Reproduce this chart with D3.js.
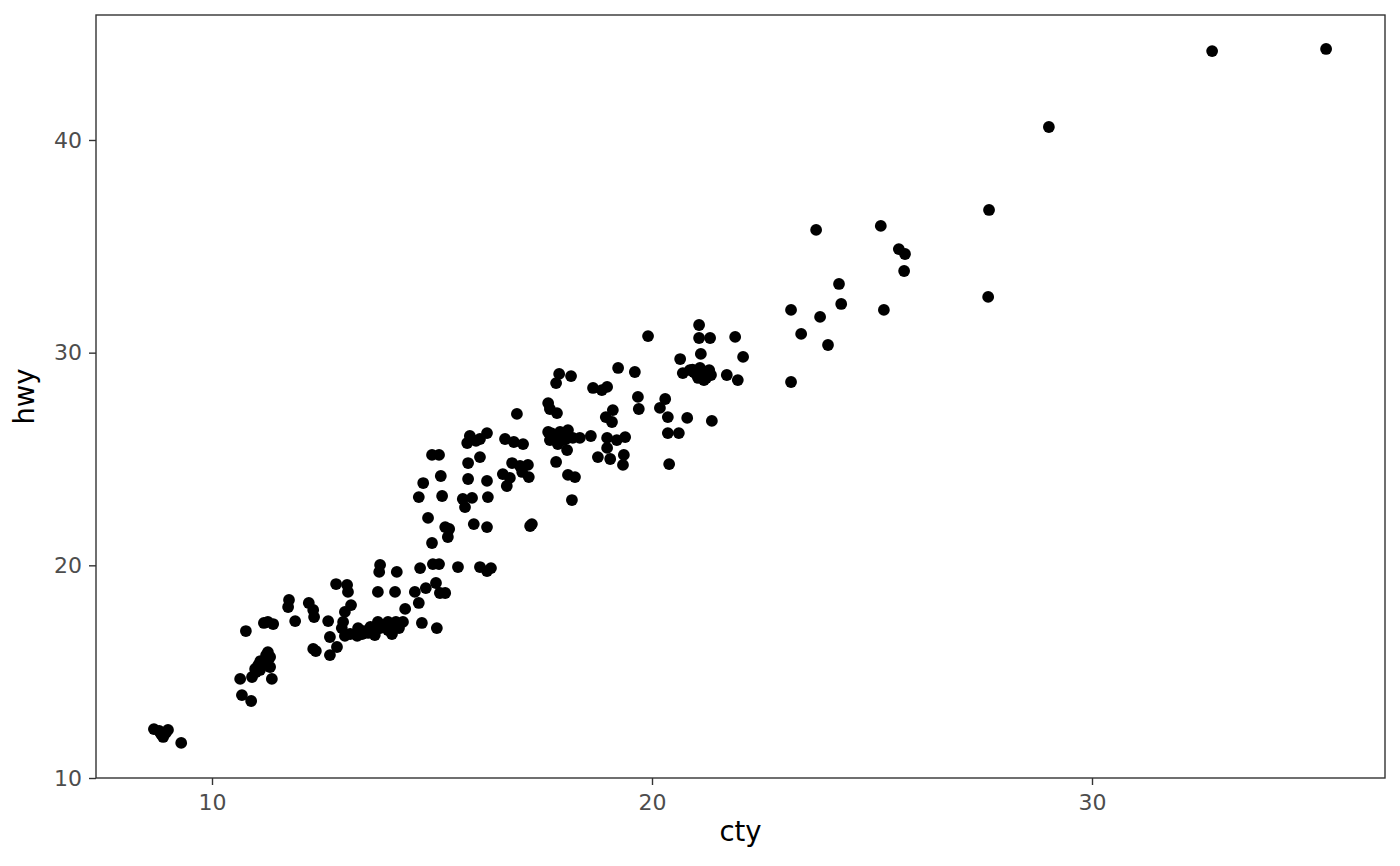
<!DOCTYPE html>
<html>
<head>
<meta charset="utf-8">
<script src="https://cdn.jsdelivr.net/npm/d3@7"></script>
<style>
  html, body { margin: 0; padding: 0; background: #ffffff; }
  svg { display: block; }
</style>
</head>
<body>
<svg id="chart" width="1400" height="866"></svg>
<script>
// ---- data (jittered cty vs hwy) ----
const cty = [
  8.68, 8.80, 8.89, 8.95, 9.00, 9.30, 10.64, 10.68, 10.89, 10.77,
  11.18, 11.27, 11.39, 10.91, 10.98, 11.05, 11.14, 11.27, 11.32, 11.32,
  11.36, 11.00, 11.75, 11.73, 11.89, 11.23, 11.09, 12.20, 12.30, 12.32,
  12.64, 12.82, 13.07, 13.09, 13.16, 13.02, 12.68, 12.84, 12.30, 12.36,
  12.68, 12.98, 12.95, 13.32, 13.14, 13.02, 13.30, 13.41, 13.55, 13.64,
  13.77, 13.82, 13.91, 14.00, 14.09, 14.00, 14.18, 14.34, 14.25, 13.82,
  13.80, 14.20, 13.77, 14.16, 14.61, 14.86, 15.09, 15.18, 15.30, 14.39,
  14.70, 14.77, 15.11, 15.02, 15.16, 14.73, 15.59, 13.70, 14.16, 14.11,
  15.00, 15.16, 15.20, 14.80, 14.70, 15.23, 14.91, 15.30, 15.39, 15.36,
  15.00, 15.82, 16.09, 15.82, 16.25, 15.70, 15.91, 15.75, 16.27, 15.95,
  16.25, 16.09, 16.25, 16.34, 15.86, 15.80, 16.09, 16.25, 16.66, 16.86,
  17.07, 16.93, 16.61, 16.70, 16.77, 16.82, 17.00, 17.18, 17.05, 17.20,
  17.27, 17.23, 17.89, 17.82, 18.16, 17.64, 17.68, 17.84, 17.64, 17.68,
  17.91, 18.09, 17.98, 18.20, 18.36, 18.07, 18.61, 17.82, 18.09, 18.25,
  18.18, 17.80, 17.75, 18.02, 17.86, 18.66, 18.86, 18.98, 19.23, 19.61,
  19.11, 18.95, 19.09, 18.98, 18.98, 19.20, 19.39, 19.36, 19.34, 18.77,
  19.05, 19.68, 19.70, 19.91, 21.07, 21.07, 21.32, 21.89, 22.07, 20.64,
  21.11, 20.70, 20.86, 20.95, 21.02, 21.09, 21.16, 21.23, 21.30, 21.34,
  21.18, 21.05, 21.70, 21.95, 20.18, 20.30, 20.36, 20.80, 21.36, 20.36,
  20.61, 20.39, 23.16, 23.16, 23.39, 23.73, 23.82, 24.00, 24.25, 24.30,
  25.20, 25.27, 25.61, 25.75, 25.73, 27.64, 27.66, 29.02, 32.73, 35.32,
  // points partly hidden inside the dense clusters
  8.85, 11.10, 11.20, 13.45, 13.60, 14.05, 17.95, 18.05, 17.72, 21.00,
  21.14, 21.25, 20.92, 16.00
];
const hwy = [
  12.30, 12.21, 11.93, 12.12, 12.26, 11.65, 14.66, 13.90, 13.62, 16.91,
  17.29, 17.34, 17.24, 14.75, 15.13, 15.31, 15.27, 15.92, 15.69, 15.22,
  14.66, 14.98, 18.37, 18.04, 17.38, 15.78, 15.08, 18.23, 17.90, 17.57,
  17.38, 19.12, 19.08, 18.75, 18.13, 17.81, 16.63, 16.16, 16.07, 15.97,
  15.78, 17.34, 17.05, 17.05, 16.77, 16.68, 16.68, 16.77, 16.82, 16.96,
  17.34, 17.05, 17.19, 16.96, 16.77, 17.34, 17.34, 17.34, 17.05, 20.02,
  19.69, 19.69, 18.75, 18.75, 18.75, 18.93, 19.17, 18.70, 18.70, 17.95,
  18.23, 17.29, 17.05, 20.06, 20.06, 19.87, 19.92, 16.72, 17.05, 17.19,
  25.19, 25.19, 24.20, 23.87, 23.21, 23.26, 22.23, 21.80, 21.71, 21.33,
  21.05, 24.81, 25.09, 24.06, 23.97, 23.12, 23.17, 22.74, 23.21, 21.94,
  21.80, 19.92, 19.73, 19.87, 26.08, 25.75, 25.94, 26.22, 25.94, 25.80,
  25.70, 27.12, 24.29, 23.73, 24.11, 24.81, 24.67, 24.72, 24.39, 24.15,
  21.94, 21.85, 29.00, 28.57, 28.90, 27.63, 27.35, 27.16, 26.27, 25.89,
  26.27, 26.36, 25.89, 25.99, 25.99, 25.42, 26.08, 24.86, 24.25, 24.15,
  23.07, 25.89, 26.08, 26.08, 25.70, 28.34, 28.24, 28.39, 29.28, 29.09,
  27.30, 26.97, 26.74, 25.99, 25.52, 25.89, 26.03, 25.19, 24.72, 25.09,
  25.00, 27.92, 27.35, 30.78, 31.30, 30.69, 30.69, 30.74, 29.80, 29.70,
  29.94, 29.04, 29.18, 29.09, 28.95, 29.28, 29.04, 28.81, 29.18, 28.95,
  28.71, 28.81, 28.95, 28.71, 27.40, 27.82, 26.97, 26.93, 26.79, 26.22,
  26.22, 24.76, 32.01, 28.62, 30.88, 35.77, 31.68, 30.36, 33.23, 32.29,
  35.96, 32.01, 34.87, 34.64, 33.84, 32.62, 36.71, 40.61, 44.18, 44.28,
  12.05, 15.50, 15.40, 16.90, 17.10, 17.15, 26.15, 25.95, 26.20, 29.10,
  28.90, 29.00, 29.20, 25.85
];
const xTicks = [10, 20, 30];
const yTicks = [10, 20, 30, 40];
const xLabel = "cty";
const yLabel = "hwy";

// ---- layout ----
const W = 1400, H = 866;
const panel = { left: 96, right: 1385, top: 15, bottom: 778 };

const svg = d3.select("#chart");

const x = d3.scaleLinear()
  .domain([7.3636, 36.659])
  .range([panel.left, panel.right]);
const y = d3.scaleLinear()
  .domain([10.0, 45.877])
  .range([panel.bottom, panel.top]);

const font = "'DejaVu Sans', 'Liberation Sans', sans-serif";

// panel background
svg.append("rect")
  .attr("x", panel.left).attr("y", panel.top)
  .attr("width", panel.right - panel.left)
  .attr("height", panel.bottom - panel.top)
  .attr("fill", "#ffffff");

// points
const pts = cty.map((c, i) => ({ c, h: hwy[i] }));
svg.append("g")
  .selectAll("circle")
  .data(pts)
  .join("circle")
  .attr("cx", d => x(d.c))
  .attr("cy", d => y(d.h))
  .attr("r", 5.9)
  .attr("fill", "#000000");

// axes
const xAxis = d3.axisBottom(x).tickValues(xTicks).tickSize(7).tickPadding(9).tickFormat(d3.format("d"));
const yAxis = d3.axisLeft(y).tickValues(yTicks).tickSize(7).tickPadding(7).tickFormat(d3.format("d"));

const gx = svg.append("g")
  .attr("transform", `translate(0,${panel.bottom})`)
  .call(xAxis);
const gy = svg.append("g")
  .attr("transform", `translate(${panel.left},0)`)
  .call(yAxis);

[gx, gy].forEach(g => {
  g.select(".domain").remove();
  g.selectAll(".tick line").attr("stroke", "#333333").attr("stroke-width", 1.4);
  g.selectAll(".tick text")
    .attr("fill", "#4d4d4d")
    .style("font-family", font)
    .style("font-size", "22px");
});

// panel border
svg.append("rect")
  .attr("x", panel.left).attr("y", panel.top)
  .attr("width", panel.right - panel.left)
  .attr("height", panel.bottom - panel.top)
  .attr("fill", "none")
  .attr("stroke", "#333333")
  .attr("stroke-width", 1.4);

// axis titles
svg.append("text")
  .attr("x", (panel.left + panel.right) / 2)
  .attr("y", 841)
  .attr("text-anchor", "middle")
  .style("font-family", font)
  .style("font-size", "27.5px")
  .attr("fill", "#000000")
  .text(xLabel);

svg.append("text")
  .attr("transform", `translate(34,${(panel.top + panel.bottom) / 2}) rotate(-90)`)
  .attr("text-anchor", "middle")
  .style("font-family", font)
  .style("font-size", "27.5px")
  .attr("fill", "#000000")
  .text(yLabel);
</script>
</body>
</html>
